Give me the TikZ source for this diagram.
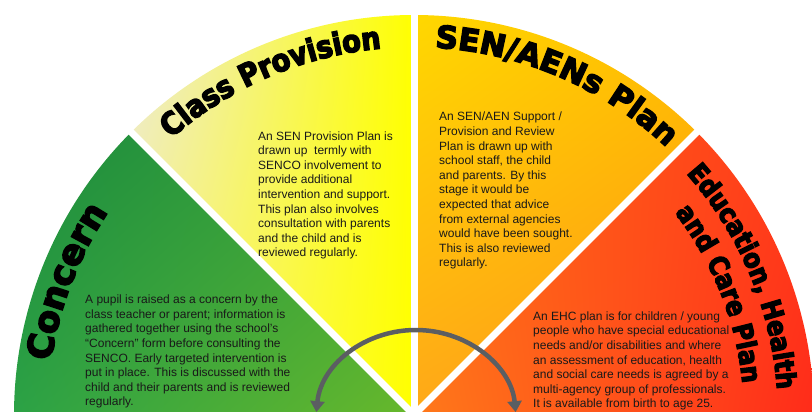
\documentclass[tikz,border=0pt]{standalone}
\usepackage{fontspec}
\setmainfont{Liberation Sans}
\newfontfamily\titlefont[FakeBold=4.5]{DejaVu Sans Bold}
\newfontfamily\titlefontc[FakeBold=4.5, FakeStretch=0.88]{DejaVu Sans Bold}
\usetikzlibrary{decorations.text, arrows.meta, shadings}
\definecolor{arrowgray}{HTML}{5B5E62}
\definecolor{gA}{HTML}{1B8A3E}\definecolor{gB}{HTML}{3BA53A}\definecolor{gC}{HTML}{2CA346}\definecolor{gD}{HTML}{6AB92A}
\definecolor{yA}{HTML}{ECEAD6}\definecolor{yB}{HTML}{FFFF00}\definecolor{yC}{HTML}{F8F288}\definecolor{yD}{HTML}{FFFF00}
\definecolor{oA}{HTML}{FFD800}\definecolor{oB}{HTML}{FFC000}\definecolor{oC}{HTML}{FFA818}\definecolor{oD}{HTML}{FF9418}
\definecolor{rA}{HTML}{FF6A18}\definecolor{rB}{HTML}{FF3A1A}\definecolor{rC}{HTML}{FF7A1A}\definecolor{rD}{HTML}{FF2A1A}
\tikzset{
  body/.style={inner sep=0pt, align=left, text=black!90, font=\fontsize{12}{14.6}\selectfont},
  sepline/.style={white, line width=7pt},
  cycarrow/.style={draw=arrowgray, line width=4.5pt, {Triangle[width=14pt,length=11pt]}-{Triangle[width=14pt,length=11pt]}},
}
\begin{document}
\begin{tikzpicture}[x=1pt,y=1pt]
\useasboundingbox (0,0) rectangle (812,412);
\clip (0,0) rectangle (812,412);
\coordinate (C) at (414,-3);
\def\R{400}
% sectors
\shade[upper left=gA, upper right=gB, lower left=gC, lower right=gD]
  (C) -- ++(135:\R) arc[start angle=135, end angle=182, radius=\R] -- cycle;
\shade[upper left=yA, upper right=yB, lower left=yC, lower right=yD]
  (C) -- ++(90:\R) arc[start angle=90, end angle=135, radius=\R] -- cycle;
\shade[upper left=oA, upper right=oB, lower left=oC, lower right=oD]
  (C) -- ++(45:\R) arc[start angle=45, end angle=90, radius=\R] -- cycle;
\shade[upper left=rA, upper right=rB, lower left=rC, lower right=rD]
  (C) -- ++(-2:\R) arc[start angle=-2, end angle=45, radius=\R] -- cycle;
% separators
\draw[sepline] (C) -- ++(45:410);
\draw[sepline] (C) -- ++(90:410);
\draw[sepline] (C) -- ++(135:410);
% titles
\path[decorate, decoration={text along path, text align=center,
  text={|\titlefont\fontsize{35}{35}\selectfont|Concern}}]
  (C) ++(184:367) arc[start angle=184, end angle=134, radius=367];
\path[decorate, decoration={text along path, text align=center,
  text={|\titlefontc\fontsize{31}{31}\selectfont|Class Provision}}]
  (C) ++(138.2:368) arc[start angle=138.2, end angle=88.2, radius=368];
\path[decorate, decoration={text along path, text align=center,
  text={|\titlefont\fontsize{31}{31}\selectfont|SEN/AENs Plan}}]
  (C) ++(91.7:368) arc[start angle=91.7, end angle=41.7, radius=368];
\path[decorate, decoration={text along path, text align=center,
  text={|\titlefontc\fontsize{27}{27}\selectfont|Education, Health}}]
  (C) ++(47.8:364) arc[start angle=47.8, end angle=-2.2, radius=364];
\path[decorate, decoration={text along path, text align=center,
  text={|\titlefontc\fontsize{27}{27}\selectfont|and Care Plan}}]
  (C) ++(46.65:330) arc[start angle=46.65, end angle=-3.35, radius=330];
% body texts (anchored at the baseline of their last line)
\node[body, anchor=base west] (con) at (85,6) {A pupil is raised as a concern by the\\class teacher or parent; information is\\gathered together using the school’s\\“Concern” form before consulting the\\SENCO. Early targeted intervention is\\put in place. This is discussed with the\\child and their parents and is reviewed\\regularly.};
\node[body, anchor=base west] (cp) at (258,155) {An SEN Provision Plan is\\drawn up\ \ termly with\\SENCO involvement to\\provide additional\\intervention and support.\\This plan also involves\\consultation with parents\\and the child and is\\reviewed regularly.};
\node[body, anchor=base west] (sen) at (439,145) {An SEN/AEN Support /\\Provision and Review\\Plan is drawn up with\\school staff, the child\\and parents. By this\\stage it would be\\expected that advice\\from external agencies\\would have been sought.\\This is also reviewed\\regularly.};
\node[body, anchor=base west] (ehc) at (533,4) {An EHC plan is for children / young\\people who have special educational\\needs and/or disabilities and where\\an assessment of education, health\\and social care needs is agreed by a\\multi-agency group of professionals.\\It is available from birth to age 25.};
% cycle arrow
\coordinate (a1) at (316.4,-0.16);
\draw[cycarrow] (a1) arc[start angle=175, end angle=5, x radius=100, y radius=90];
\end{tikzpicture}
\end{document}
